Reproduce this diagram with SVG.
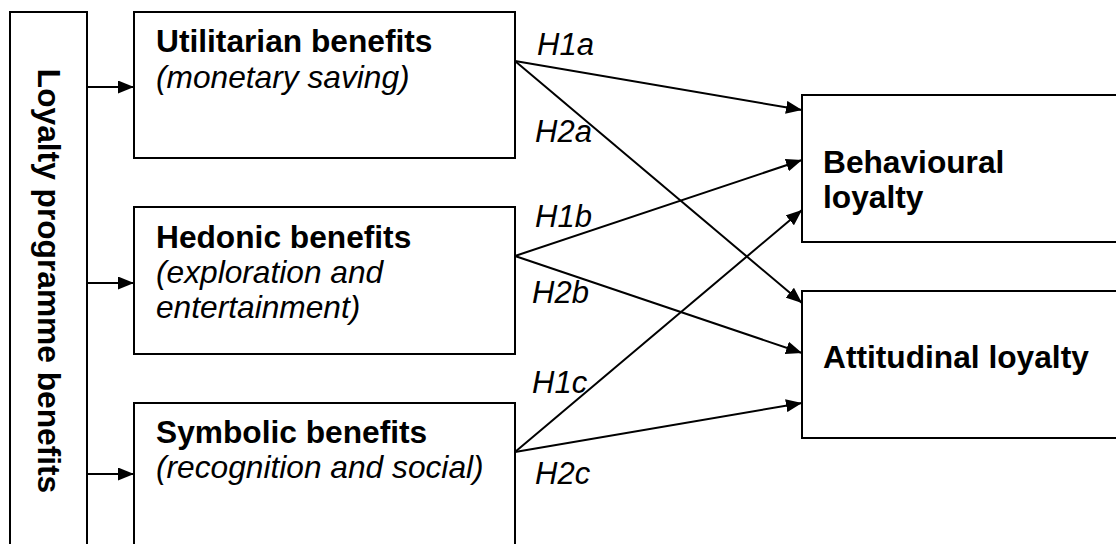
<svg xmlns="http://www.w3.org/2000/svg" width="1116" height="544" viewBox="0 0 1116 544">
<style>
.box{fill:#fff;stroke:#000;stroke-width:2}
.b{font-family:"Liberation Sans",Arial,sans-serif;font-weight:bold;font-size:31.7px;fill:#000}
.i{font-family:"Liberation Sans",Arial,sans-serif;font-style:italic;font-size:31.7px;fill:#000}
.lbl{font-family:"Liberation Sans",Arial,sans-serif;font-style:italic;font-size:31px;fill:#000}
.ln{stroke:#000;stroke-width:2;fill:none;marker-end:url(#ah)}
</style>
<defs>
<marker id="ah" markerUnits="userSpaceOnUse" markerWidth="17" markerHeight="13" refX="16" refY="6.5" orient="auto">
<path d="M0,0 L16,6.5 L0,13 z" fill="#000"/>
</marker>
</defs>
<g id="loyalty-programme-benefits">
<rect class="box" x="10" y="12" width="77" height="560"/>
<text class="b" transform="translate(38,281) rotate(90)" text-anchor="middle">Loyalty programme benefits</text>
</g>
<g id="utilitarian">
<rect class="box" x="134" y="12" width="381" height="146"/>
<text class="b" x="156" y="52">Utilitarian benefits</text>
<text class="i" x="156" y="88">(monetary saving)</text>
</g>
<g id="hedonic">
<rect class="box" x="134" y="207" width="381" height="147"/>
<text class="b" x="156" y="248">Hedonic benefits</text>
<text class="i" x="156" y="283">(exploration and</text>
<text class="i" x="156" y="318">entertainment)</text>
</g>
<g id="symbolic">
<rect class="box" x="134" y="403" width="381" height="170"/>
<text class="b" x="156" y="443">Symbolic benefits</text>
<text class="i" x="156" y="478">(recognition and social)</text>
</g>
<g id="behavioural">
<rect class="box" x="802" y="95" width="330" height="147"/>
<text class="b" x="823" y="173">Behavioural</text>
<text class="b" x="823" y="208">loyalty</text>
</g>
<g id="attitudinal">
<rect class="box" x="802" y="291" width="330" height="147"/>
<text class="b" x="823" y="368">Attitudinal loyalty</text>
</g>
<g id="connectors">
<line class="ln" x1="87" y1="87" x2="134" y2="87"/>
<line class="ln" x1="87" y1="283" x2="134" y2="283"/>
<line class="ln" x1="87" y1="474" x2="134" y2="474"/>
<line class="ln" x1="515" y1="61" x2="802" y2="110"/>
<line class="ln" x1="515" y1="61" x2="802" y2="303"/>
<line class="ln" x1="515" y1="256" x2="802" y2="160"/>
<line class="ln" x1="515" y1="256" x2="802" y2="353"/>
<line class="ln" x1="515" y1="452" x2="802" y2="210"/>
<line class="ln" x1="515" y1="452" x2="802" y2="403"/>
</g>
<g id="labels">
<text class="lbl" x="537" y="55">H1a</text>
<text class="lbl" x="535" y="142">H2a</text>
<text class="lbl" x="535" y="227">H1b</text>
<text class="lbl" x="532" y="303">H2b</text>
<text class="lbl" x="532" y="393">H1c</text>
<text class="lbl" x="535" y="484">H2c</text>
</g>
</svg>
